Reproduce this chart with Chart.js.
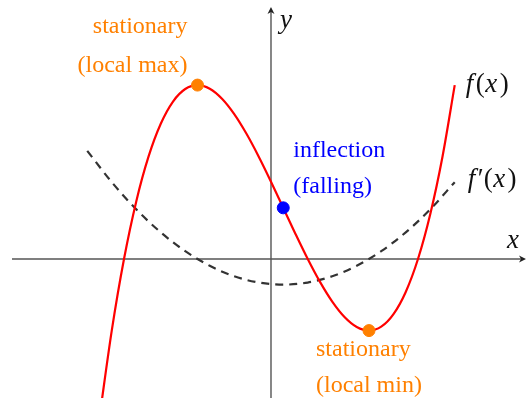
<!DOCTYPE html>
<html>
<head>
<meta charset="utf-8">
<script src="https://cdn.jsdelivr.net/npm/chart.js@4.4.1/dist/chart.umd.min.js"></script>
<style>
  html, body { margin: 0; padding: 0; background: #fff; }
  #wrap { width: 527px; height: 398px; }
</style>
</head>
<body>
<div id="wrap"><canvas id="plot" width="527" height="398"></canvas></div>
<script>
// ========== Data ==========
const curveX = [-3.5, -3.25, -3, -2.75, -2.5, -2.25, -2, -1.75, -1.5, -1.25, -1, -0.75, -0.5, -0.25,
  0, 0.25, 0.5, 0.75, 1, 1.25, 1.5, 1.75, 2, 2.25, 2.5, 2.75, 3, 3.25, 3.5, 3.75];
const curveY = [-3.453, -1.563, 0, 1.258, 2.234, 2.953, 3.438, 3.711, 3.797, 3.719, 3.5, 3.164, 2.734, 2.234,
  1.688, 1.117, 0.547, 0, -0.5, -0.93, -1.266, -1.484, -1.563, -1.477, -1.203, -0.719, 0, 0.977, 2.234, 3.797];

const slopeX = [-3.75, -3.25, -2.75, -2.25, -1.75, -1.25, -0.75, -0.25, 0.25, 0.75, 1.25, 1.75, 2.25, 2.75, 3.25, 3.75];
const slopeY = [2.362, 1.678, 1.084, 0.582, 0.171, -0.148, -0.377, -0.514, -0.559, -0.514, -0.377, -0.148, 0.171, 0.582, 1.084, 1.678];

const stationaryX = [-1.5, 2];
const stationaryY = [3.797, -1.563];
const inflectionX = [0.25];
const inflectionY = [1.117];

// chart area ends up inset by 7px (point padding), ranges account for it
const xRange = [-5.388, 5.082];
const yRange = [-2.882, 5.502];

const ORANGE = "#ff8000";
const BLUE = "#0000ff";
const SERIF = "'Liberation Serif', 'DejaVu Serif', serif";

const toPts = (xs, ys) => xs.map((x, i) => ({ x, y: ys[i] }));

// ========== Helpers ==========
function drawRuns(ctx, runs, x, y, size, color) {
  ctx.save();
  ctx.fillStyle = color;
  ctx.textBaseline = "alphabetic";
  ctx.textAlign = "left";
  let cx = x;
  runs.forEach(([t, it]) => {
    ctx.font = `${it ? "italic " : ""}${size}px ${SERIF}`;
    ctx.fillText(t, cx, y);
    cx += ctx.measureText(t).width + (it ? 2.5 : 0.5);
  });
  ctx.restore();
}

function arrowHead(ctx, x, y, angle) {
  ctx.save();
  ctx.translate(x, y);
  ctx.rotate(angle);
  ctx.beginPath();
  ctx.moveTo(0, 0);
  ctx.lineTo(-7, -3.5);
  ctx.lineTo(-5, 0);
  ctx.lineTo(-7, 3.5);
  ctx.closePath();
  ctx.fill();
  ctx.restore();
}

// ========== Axes + labels plugin ==========
const decor = {
  id: "decor",
  beforeDatasetsDraw(chart) {
    const { ctx, scales: { x, y } } = chart;
    const x0 = x.getPixelForValue(0);
    const y0 = y.getPixelForValue(0);
    ctx.save();
    ctx.strokeStyle = "#555";
    ctx.fillStyle = "#222";
    ctx.lineWidth = 1.4;
    ctx.beginPath();
    ctx.moveTo(12, y0);
    ctx.lineTo(chart.width - 4, y0);
    ctx.moveTo(x0, chart.height);
    ctx.lineTo(x0, 11);
    ctx.stroke();
    arrowHead(ctx, chart.width - 1, y0, 0);
    arrowHead(ctx, x0, 7, -Math.PI / 2);
    ctx.restore();
  },
  afterDraw(chart) {
    const { ctx, scales: { x, y } } = chart;
    const px = (v) => x.getPixelForValue(v);
    const py = (v) => y.getPixelForValue(v);
    ctx.save();
    ctx.font = `24px ${SERIF}`;
    ctx.textBaseline = "alphabetic";

    // local max
    ctx.fillStyle = ORANGE;
    ctx.textAlign = "right";
    ctx.fillText("stationary", px(stationaryX[0]) - 10, py(stationaryY[0]) - 52);
    ctx.fillText("(local max)", px(stationaryX[0]) - 10, py(stationaryY[0]) - 13);

    // local min
    ctx.textAlign = "left";
    ctx.fillText("stationary", px(stationaryX[1]) - 53, py(stationaryY[1]) + 25);
    ctx.fillText("(local min)", px(stationaryX[1]) - 53, py(stationaryY[1]) + 61);

    // inflection
    ctx.fillStyle = BLUE;
    ctx.fillText("inflection", px(inflectionX[0]) + 10, py(inflectionY[0]) - 51);
    ctx.fillText("(falling)", px(inflectionX[0]) + 10, py(inflectionY[0]) - 15);
    ctx.restore();

    // curve names
    const fx = px(curveX[curveX.length - 1]);
    const fy = py(curveY[curveY.length - 1]);
    drawRuns(ctx, [["f", true], ["(", false], ["x", true], [")", false]], fx + 11, fy + 7, 27, "#111");
    const gx = px(slopeX[slopeX.length - 1]);
    const gy = py(slopeY[slopeY.length - 1]);
    drawRuns(ctx, [["f", true], ["\u2032(", false], ["x", true], [")", false]], gx + 13, gy + 5, 27, "#111");

    // axis names
    drawRuns(ctx, [["x", true]], chart.width - 20, py(0) - 11, 27, "#111");
    drawRuns(ctx, [["y", true]], px(0) + 9, 28, 27, "#111");
  }
};

// ========== Chart ==========
new Chart(document.getElementById("plot").getContext("2d"), {
  type: "scatter",
  data: {
    datasets: [
      {
        data: toPts(stationaryX, stationaryY),
        backgroundColor: ORANGE,
        borderColor: ORANGE,
        pointRadius: 6,
        showLine: false,
        order: 0,
      },
      {
        data: toPts(inflectionX, inflectionY),
        backgroundColor: BLUE,
        borderColor: BLUE,
        pointRadius: 6,
        showLine: false,
        order: 0,
      },
      {
        data: toPts(curveX, curveY),
        borderColor: "#ff0000",
        borderWidth: 2.2,
        pointRadius: 0,
        showLine: true,
        cubicInterpolationMode: "monotone",
        clip: 8,
        order: 1,
      },
      {
        data: toPts(slopeX, slopeY),
        borderColor: "#333",
        borderWidth: 2.2,
        borderDash: [8, 6],
        pointRadius: 0,
        showLine: true,
        cubicInterpolationMode: "monotone",
        clip: 8,
        order: 2,
      },
    ],
  },
  options: {
    responsive: false,
    animation: false,
    devicePixelRatio: 1,
    layout: { padding: 0 },
    plugins: { legend: { display: false }, tooltip: { enabled: false } },
    scales: {
      x: { type: "linear", min: xRange[0], max: xRange[1], display: false },
      y: { type: "linear", min: yRange[0], max: yRange[1], display: false },
    },
  },
  plugins: [decor],
});
</script>
</body>
</html>
